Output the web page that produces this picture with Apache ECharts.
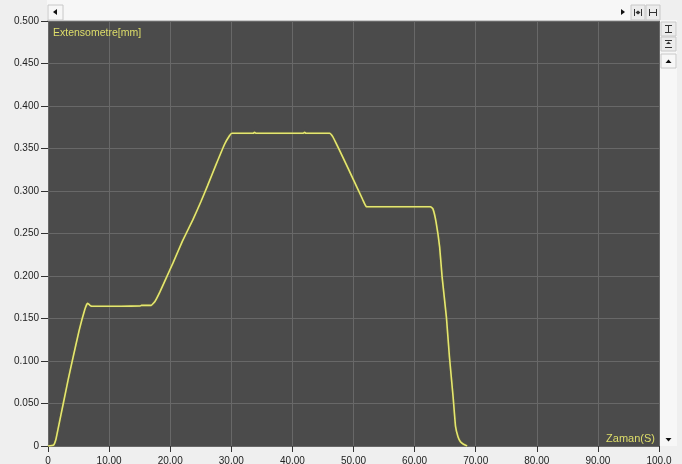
<!DOCTYPE html>
<html>
<head>
<meta charset="utf-8">
<script src="https://cdn.jsdelivr.net/npm/echarts@6/dist/echarts.min.js"></script>
<style>
  html, body { margin: 0; padding: 0; background: #efefef; }
  #chart { width: 682px; height: 464px; }
</style>
</head>
<body>
<div id="chart"></div>
<script>
// Extensometer reading over time
const timeSec = [0, 0.9, 1.3, 1.7, 2.5, 3.3, 4.0, 5.1, 6.0, 6.45, 6.8, 7.1, 12.0, 15.1, 15.3, 16.9, 17.5, 18.3, 19.3, 20.5, 22.0, 23.7, 25.0, 26.1, 27.5, 28.9, 29.7, 30.1, 30.6, 33.6, 33.8, 34.0, 41.8, 42.0, 42.2, 46.1, 46.6, 47.1, 47.7, 49.1, 50.4, 51.5, 52.1, 52.5, 62.6, 63.0, 63.5, 64.1, 64.5, 65.2, 65.7, 66.3, 66.7, 67.1, 67.5, 68.0, 68.6];
const extensionMm = [0, 0.001, 0.008, 0.022, 0.050, 0.078, 0.101, 0.136, 0.160, 0.168, 0.166, 0.1645, 0.1645, 0.1648, 0.1655, 0.1655, 0.170, 0.181, 0.197, 0.216, 0.241, 0.266, 0.287, 0.306, 0.331, 0.355, 0.365, 0.368, 0.368, 0.368, 0.369, 0.368, 0.368, 0.369, 0.368, 0.368, 0.364, 0.357, 0.348, 0.327, 0.307, 0.290, 0.2815, 0.2815, 0.2815, 0.279, 0.264, 0.234, 0.199, 0.152, 0.105, 0.058, 0.023, 0.011, 0.005, 0.002, 0];

const xTicks = { min: 0, max: 100, step: 10 };
const yTicks = { min: 0, max: 0.5, step: 0.05 };

const xName = 'Zaman(S)';
const yName = 'Extensometre[mm]';

const points = timeSec.map((t, i) => [t, extensionMm[i]]);

const chromeFill = '#f7f7f7';
const chromeEdge = '#c8c8c8';
const glyph = '#111';

const chart = echarts.init(document.getElementById('chart'), null, { renderer: 'canvas' });

chart.setOption({
  backgroundColor: '#efefef',
  animation: false,
  grid: { left: 48, right: 23, top: 21, bottom: 18, outerBoundsMode: 'none', containLabel: false, show: true, backgroundColor: '#4b4b4b', borderWidth: 0 },
  xAxis: {
    type: 'value',
    min: xTicks.min, max: xTicks.max, interval: xTicks.step,
    name: xName,
    nameLocation: 'end',
    nameGap: -4,
    nameTextStyle: { color: '#dede6a', fontFamily: 'Liberation Sans, Arial, sans-serif', fontSize: 11, align: 'right', verticalAlign: 'bottom', padding: [0, 0, 2, 0] },
    axisLine: { show: false },
    axisTick: { show: true, length: 6, lineStyle: { color: '#333' } },
    axisLabel: {
      color: '#222', fontFamily: 'Liberation Sans, Arial, sans-serif', fontSize: 10, margin: 10,
      formatter: v => v === 0 ? '0' : (v >= 100 ? v.toFixed(1) : v.toFixed(2))
    },
    splitLine: { show: true, lineStyle: { color: '#686868', width: 1 } }
  },
  yAxis: {
    type: 'value',
    min: yTicks.min, max: yTicks.max, interval: yTicks.step,
    name: yName,
    nameLocation: 'end',
    nameGap: -12,
    nameTextStyle: { color: '#dede6a', fontFamily: 'Liberation Sans, Arial, sans-serif', fontSize: 10.5, align: 'left', verticalAlign: 'middle', padding: [0, 0, 0, 5] },
    axisLine: { show: false },
    axisTick: { show: true, length: 7, lineStyle: { color: '#333' } },
    axisLabel: {
      color: '#222', fontFamily: 'Liberation Sans, Arial, sans-serif', fontSize: 10, margin: 9,
      formatter: v => v === 0 ? '0' : v.toFixed(3)
    },
    splitLine: { show: true, lineStyle: { color: '#686868', width: 1 } }
  },
  series: [{
    type: 'line',
    data: points,
    showSymbol: false,
    smooth: 0.1,
    lineStyle: { color: '#e4e670', width: 1.6, shadowColor: 'rgba(120,120,40,0.8)', shadowBlur: 1.5 },
    clip: true
  }],
  graphic: [
    // top scroll strip
    { type: 'rect', shape: { x: 47, y: 0, width: 613, height: 20 }, style: { fill: chromeFill }, z: 100 },
    { type: 'line', shape: { x1: 47, y1: 20.5, x2: 660, y2: 20.5 }, style: { stroke: chromeEdge, lineWidth: 1 }, z: 101 },
    { type: 'rect', shape: { x: 48, y: 5, width: 15, height: 15 }, style: { fill: chromeFill, stroke: chromeEdge, lineWidth: 1 }, z: 101 },
    { type: 'polygon', shape: { points: [[53, 12], [57, 9], [57, 15]] }, style: { fill: glyph }, z: 102 },
    { type: 'polygon', shape: { points: [[621, 9], [625, 12], [621, 15]] }, style: { fill: glyph }, z: 102 },
    { type: 'rect', shape: { x: 631, y: 5, width: 14, height: 15 }, style: { fill: '#ececec', stroke: chromeEdge, lineWidth: 1 }, z: 101 },
    { type: 'polyline', shape: { points: [[634.5, 9], [634.5, 16]] }, style: { stroke: '#333', lineWidth: 1 }, z: 102 },
    { type: 'polyline', shape: { points: [[641.5, 9], [641.5, 16]] }, style: { stroke: '#333', lineWidth: 1 }, z: 102 },
    { type: 'polygon', shape: { points: [[635.5, 12.5], [638, 10.5], [638, 14.5]] }, style: { fill: '#333' }, z: 102 },
    { type: 'polygon', shape: { points: [[640.5, 12.5], [638, 10.5], [638, 14.5]] }, style: { fill: '#333' }, z: 102 },
    { type: 'rect', shape: { x: 646, y: 5, width: 14, height: 15 }, style: { fill: '#ececec', stroke: chromeEdge, lineWidth: 1 }, z: 101 },
    { type: 'polyline', shape: { points: [[649.5, 9], [649.5, 16]] }, style: { stroke: '#333', lineWidth: 1 }, z: 102 },
    { type: 'polyline', shape: { points: [[656.5, 9], [656.5, 16]] }, style: { stroke: '#333', lineWidth: 1 }, z: 102 },
    { type: 'polyline', shape: { points: [[650, 12.5], [656, 12.5]] }, style: { stroke: '#333', lineWidth: 1 }, z: 102 },
    // right scroll strip
    { type: 'rect', shape: { x: 660, y: 20, width: 17, height: 426 }, style: { fill: chromeFill }, z: 100 },
    { type: 'rect', shape: { x: 661, y: 22, width: 15, height: 14 }, style: { fill: '#ececec', stroke: chromeEdge, lineWidth: 1 }, z: 101 },
    { type: 'polyline', shape: { points: [[665, 25.5], [672, 25.5]] }, style: { stroke: '#333', lineWidth: 1 }, z: 102 },
    { type: 'polyline', shape: { points: [[665, 32.5], [672, 32.5]] }, style: { stroke: '#333', lineWidth: 1 }, z: 102 },
    { type: 'polyline', shape: { points: [[668.5, 26], [668.5, 32]] }, style: { stroke: '#333', lineWidth: 1 }, z: 102 },
    { type: 'rect', shape: { x: 661, y: 37, width: 15, height: 14 }, style: { fill: '#ececec', stroke: chromeEdge, lineWidth: 1 }, z: 101 },
    { type: 'polyline', shape: { points: [[665, 40.5], [672, 40.5]] }, style: { stroke: '#333', lineWidth: 1 }, z: 102 },
    { type: 'polyline', shape: { points: [[665, 47.5], [672, 47.5]] }, style: { stroke: '#333', lineWidth: 1 }, z: 102 },
    { type: 'polygon', shape: { points: [[666, 44], [671, 44], [668.5, 41.5]] }, style: { fill: '#333' }, z: 102 },
    { type: 'rect', shape: { x: 661, y: 54, width: 15, height: 14 }, style: { fill: chromeFill, stroke: chromeEdge, lineWidth: 1 }, z: 101 },
    { type: 'polygon', shape: { points: [[665.5, 63], [668.5, 59.5], [671.5, 63]] }, style: { fill: glyph }, z: 102 },
    { type: 'polygon', shape: { points: [[665.5, 438], [668.5, 441.5], [671.5, 438]] }, style: { fill: glyph }, z: 102 }
  ]
});
</script>
</body>
</html>
